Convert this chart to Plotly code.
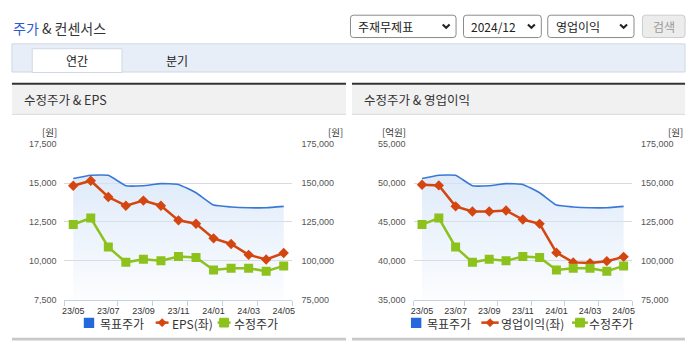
import plotly.graph_objects as go

# ---------------- data ----------------
months = ['23/05', '23/06', '23/07', '23/08', '23/09', '23/10', '23/11',
          '23/12', '24/01', '24/02', '24/03', '24/04', '24/05']
target_price = [152900, 155000, 155000, 148300, 148300, 149600, 149100,
                143750, 135800, 134600, 134100, 134100, 135000]          # 목표주가 (원, right)
eps = [14830, 15150, 14100, 13540, 13870, 13540, 12600,
       12380, 11440, 11080, 10380, 10080, 10500]                         # EPS (원, left)
op_income = [49790, 49700, 47000, 46330, 46330, 46460, 45300,
             44750, 41040, 39790, 39700, 39950, 40500]                   # 영업이익 (억원, left)
adj_price = [123300, 127500, 108800, 99000, 101000, 100000, 102700,
             102100, 94100, 95200, 95200, 93300, 96700]                  # 수정주가 (원, right)

right_ticks = [75000, 100000, 125000, 150000, 175000]
eps_ticks = [7500, 10000, 12500, 15000, 17500]
op_ticks = [35000, 40000, 45000, 50000, 55000]

W, H = 695, 349
FONT = "Noto Sans CJK KR"
NUMFONT = "Liberation Sans, Arial"
RED = "#d4450f"
GREEN = "#8cc21b"
BLUE_LINE = "#3a78d6"
BLUE_SQ = "#2368dc"


def px(x):
    return x / W


def py(y):
    return 1 - y / H


shapes = []
annotations = []


def rect(x0, y0, x1, y1, fill, line=None, lw=1):
    shapes.append(dict(type="rect", xref="paper", yref="paper",
                       x0=px(x0), x1=px(x1), y0=py(y1), y1=py(y0),
                       fillcolor=fill, line=dict(color=line or "rgba(0,0,0,0)", width=lw if line else 0),
                       layer="below"))


def hline(x0, x1, y, color, w=1):
    shapes.append(dict(type="line", xref="paper", yref="paper",
                       x0=px(x0), x1=px(x1), y0=py(y), y1=py(y),
                       line=dict(color=color, width=w)))


def path(points, color, w=1, fill=None, close=False):
    d = "M " + " L ".join(f"{px(a):.5f},{py(b):.5f}" for a, b in points)
    if close:
        d += " Z"
    shapes.append(dict(type="path", xref="paper", yref="paper", path=d,
                       line=dict(color=color, width=w),
                       fillcolor=fill or "rgba(0,0,0,0)"))


def rrect(x0, y0, x1, y1, r, line, fill):
    d = f"M {px(x0 + r):.5f},{py(y0):.5f} L {px(x1 - r):.5f},{py(y0):.5f} "
    d += f"Q {px(x1):.5f},{py(y0):.5f} {px(x1):.5f},{py(y0 + r):.5f} "
    d += f"L {px(x1):.5f},{py(y1 - r):.5f} Q {px(x1):.5f},{py(y1):.5f} {px(x1 - r):.5f},{py(y1):.5f} "
    d += f"L {px(x0 + r):.5f},{py(y1):.5f} Q {px(x0):.5f},{py(y1):.5f} {px(x0):.5f},{py(y1 - r):.5f} "
    d += f"L {px(x0):.5f},{py(y0 + r):.5f} Q {px(x0):.5f},{py(y0):.5f} {px(x0 + r):.5f},{py(y0):.5f} Z"
    shapes.append(dict(type="path", xref="paper", yref="paper", path=d,
                       line=dict(color=line, width=1), fillcolor=fill, layer="below"))


def text(x, y, s, size=12, color="#333", anchor="left", family=FONT):
    annotations.append(dict(xref="paper", yref="paper", x=px(x), y=py(y), text=s,
                            showarrow=False, xanchor=anchor, yanchor="middle", borderpad=0,
                            font=dict(size=size, color=color, family=family)))


# ---------------- page chrome ----------------
text(9, 24, "<span style='color:#2a5bd2'>주가</span> & 컨센서스", size=14, color="#333")

# dropdowns
for (x0, x1, label, chev) in [(350.5, 457, "주재무제표", 447), (464.5, 543, "2024/12", 533),
                              (549.5, 636.5, "영업이익", 626)]:
    rrect(x0, 10.5, x1, 33.5, 3, "#8a8a8a", "white")
    text(x0 + 7, 22, label, size=12, color="#222")
    path([(chev - 3.5, 20), (chev, 23.5), (chev + 3.5, 20)], "#222", w=2)
rrect(645, 10.5, 688, 33.5, 3, "#cccccc", "#ececec")
text(666.5, 22, "검색", size=12, color="#9a9a9a", anchor="center")

# tab bar
rect(9, 40, 688, 69, "#e8eef8", "#d0d8e4")
rect(29.5, 45, 120, 69.5, "white", "#d0d8e4")
text(75, 57, "연간", size=12, color="#222", anchor="center")
text(176, 57, "분기", size=12, color="#222", anchor="center")

# panels
for (x0, x1, title) in [(9, 346, "수정주가 & EPS"), (352, 688, "수정주가 & 영업이익")]:
    rect(x0, 82, x1, 112, "#f1f1f1")
    rect(x0, 80, x1, 82, "#333333")
    hline(x0, x1, 112.5, "#d6d6d6")
    rect(x0, 342.5, x1, 345.5, "#c8c8c8")
    text(x0 + 11, 97.5, title, size=12.5, color="#333")

# axis unit labels
text(46.5, 130.5, "[원]", size=9.5, color="#333", anchor="center")
text(335, 130.5, "[원]", size=9.5, color="#333", anchor="center")
text(394, 130.5, "[억원]", size=9.5, color="#333", anchor="center")
text(678.5, 130.5, "[원]", size=9.5, color="#333", anchor="center")


# legends
def legend(xsq, xt1, xr0, xr1, xd, xt2, lbl2, xg0, xg1, xgs, xt3):
    y = 327.5
    rect(xsq, 322, xsq + 10.5, 332.5, BLUE_SQ)
    text(xt1, y, "목표주가", size=12, color="#333")
    hline(xr0, xr1, 327, RED, 2.5)
    path([(xd, 327 - 4), (xd + 4, 327), (xd, 327 + 4), (xd - 4, 327)], RED, w=1, fill=RED, close=True)
    text(xt2, y, lbl2, size=12, color="#333")
    hline(xg0, xg1, 327, GREEN, 2.5)
    path([(xgs - 4.5, 327 - 4.5), (xgs + 4.5, 327 - 4.5), (xgs + 4.5, 327 + 4.5), (xgs - 4.5, 327 + 4.5)],
         GREEN, w=1, fill=GREEN, close=True)
    text(xt3, y, "수정주가", size=12, color="#333")


legend(81.5, 97, 154, 167, 160.5, 169.5, "EPS(좌)", 216.5, 229.5, 223, 232.5)
legend(411.5, 427, 482.5, 500, 491.3, 501, "영업이익(좌)", 574, 590, 582, 590.5)

# ---------------- chart traces ----------------
idx = list(range(len(months)))
fillgrad = dict(type="vertical", start=75000, stop=155000,
                colorscale=[[0, "rgba(212,228,248,0.05)"], [1, "rgba(212,228,248,0.75)"]])

fig = go.Figure()


def add_chart(xa, ya_main, ya_left, ya_top, left_vals, left_name):
    fig.add_trace(go.Scatter(x=idx, y=target_price, xaxis=xa, yaxis=ya_main, name="목표주가",
                             mode="lines", line=dict(color=BLUE_LINE, width=1.6, shape="spline", smoothing=0.4),
                             fill="tozeroy", fillgradient=fillgrad, hoverinfo="skip"))
    fig.add_trace(go.Scatter(x=idx, y=left_vals, xaxis=xa, yaxis=ya_left, name=left_name,
                             mode="lines+markers", line=dict(color=RED, width=2.5),
                             marker=dict(symbol="diamond", size=8, color=RED)))
    fig.add_trace(go.Scatter(x=idx, y=adj_price, xaxis=xa, yaxis=ya_top, name="수정주가",
                             mode="lines+markers", line=dict(color=GREEN, width=2.5),
                             marker=dict(symbol="square", size=9, color=GREEN)))


add_chart("x", "y", "y2", "y3", eps, "EPS(좌)")
add_chart("x2", "y4", "y5", "y6", op_income, "영업이익(좌)")

ydom = [1 - 303.3 / H, 1 - 143.3 / H]
minor_vals = [-0.5] + [i + 0.5 for i in range(2, len(months), 2)]


def xaxis(domain, anchor):
    return dict(domain=domain, anchor=anchor, range=[-0.5, len(months) - 0.5],
                tickvals=idx[::2], ticktext=months[::2], ticks="",
                showline=True, linecolor="#c3d0e0", linewidth=1, showgrid=False, zeroline=False,
                tickfont=dict(size=9, color="#333", family=NUMFONT), ticklabelstandoff=3,
                minor=dict(tickvals=minor_vals, ticks="outside", ticklen=5, tickcolor="#c3d0e0"),
                fixedrange=True)


def yright(anchor, domain=None, overlay=None, visible=True):
    d = dict(anchor=anchor, side="right", range=[75000, 175000], tickvals=right_ticks,
             tickformat=",", zeroline=False, showline=False, ticks="", fixedrange=True,
             tickfont=dict(size=9, color="#555", family=NUMFONT), ticklabelstandoff=8)
    if domain:
        d.update(domain=domain, showgrid=True, gridcolor="#dadada", gridwidth=1)
    if overlay:
        d.update(overlaying=overlay, showgrid=False)
    if not visible:
        d.update(visible=False)
    return d


def yleft(anchor, overlay, rng, tv):
    return dict(anchor=anchor, overlaying=overlay, side="left", range=rng, tickvals=tv,
                tickformat=",", zeroline=False, showline=False, showgrid=False, ticks="",
                tickfont=dict(size=9, color="#555", family=NUMFONT), ticklabelstandoff=7,
                fixedrange=True)


fig.update_layout(
    width=W, height=H, margin=dict(l=0, r=0, t=0, b=0),
    paper_bgcolor="white", plot_bgcolor="rgba(0,0,0,0)", showlegend=False,
    font=dict(family=FONT),
    xaxis=xaxis([62 / W, 292 / W], "y"),
    xaxis2=xaxis([414.2 / W, 634.5 / W], "y4"),
    yaxis=yright("x", domain=ydom),
    yaxis2=yleft("x", "y", [7500, 17500], eps_ticks),
    yaxis3=yright("x", overlay="y", visible=False),
    yaxis4=yright("x2", domain=ydom),
    yaxis5=yleft("x2", "y4", [35000, 55000], op_ticks),
    yaxis6=yright("x2", overlay="y4", visible=False),
    shapes=shapes, annotations=annotations,
)

fig.write_html("out.html", config={"displayModeBar": False})
